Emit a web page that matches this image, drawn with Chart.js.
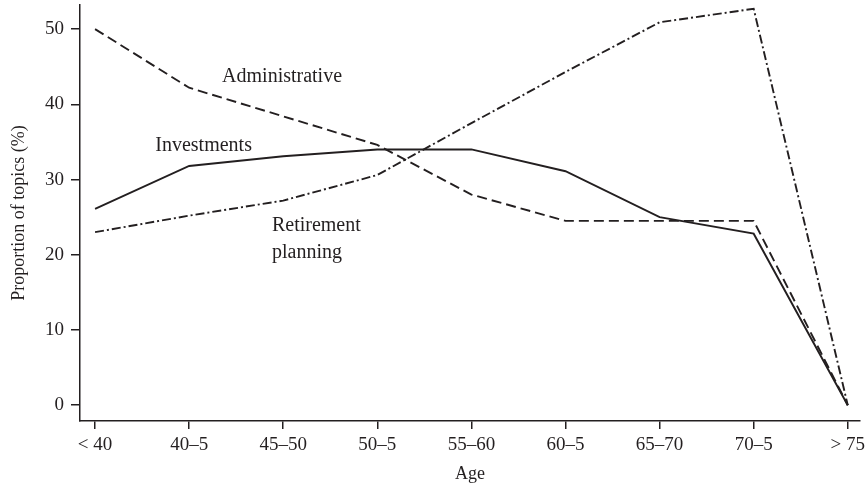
<!DOCTYPE html>
<html>
<head>
<meta charset="utf-8">
<script src="https://cdn.jsdelivr.net/npm/chart.js@4"></script>
<style>
  html, body { margin:0; padding:0; background:#fff; }
  #wrap { width:868px; height:489px; }
</style>
</head>
<body>
<div id="wrap"><canvas id="topicsChart" width="868" height="489"></canvas></div>
<script>
var ageLabels = ['< 40', '40\u20135', '45\u201350', '50\u20135', '55\u201360', '60\u20135', '65\u201370', '70\u20135', '> 75'];
var administrative = [50, 42.2, 38.4, 34.6, 28, 24.5, 24.5, 24.5, 0];
var investments = [26.1, 31.8, 33.1, 34, 34, 31.1, 25, 22.8, 0];
var retirement = [23, 25.2, 27.2, 30.6, 37.5, 44.3, 50.9, 52.7, 0];
var yTicks = [0, 10, 20, 30, 40, 50];

// text labels next to lines, in data units [x index, y value]
var lineNotes = [
	{text: 'Administrative', x: 1.35, y: 43.6},
	{text: 'Investments', x: 0.64, y: 34.5},
	{text: 'Retirement', x: 1.88, y: 23.9},
	{text: 'planning', x: 1.88, y: 20.2}
];

var ink = '#231f20';
var serif = "'Liberation Serif', 'DejaVu Serif', serif";

function toPoints(arr){
	return arr.map(function(v, i){ return {x: i, y: v}; });
}

var notesPlugin = {
	id: 'notes',
	afterDatasetsDraw: function(chart){
		var ctx = chart.ctx;
		var xs = chart.scales.x, ys = chart.scales.y;
		ctx.save();
		ctx.fillStyle = ink;
		ctx.font = '20px ' + serif;
		ctx.textAlign = 'left';
		ctx.textBaseline = 'middle';
		lineNotes.forEach(function(n){
			ctx.fillText(n.text, xs.getPixelForValue(n.x), ys.getPixelForValue(n.y));
		});
		ctx.restore();
	}
};

function makeSet(label, data, dash){
	return {
		label: label,
		data: toPoints(data),
		borderColor: ink,
		borderWidth: 1.9,
		borderDash: dash,
		pointRadius: 0,
		tension: 0,
		fill: false
	};
}

var ctx = document.getElementById('topicsChart').getContext('2d');
new Chart(ctx, {
	type: 'line',
	data: {
		datasets: [
			makeSet('Administrative', administrative, [10, 5]),
			makeSet('Investments', investments, []),
			makeSet('Retirement planning', retirement, [9, 3, 2, 3])
		]
	},
	plugins: [notesPlugin],
	options: {
		responsive: false,
		animation: false,
		layout: {padding: {top: 5, right: 8, left: 4, bottom: 0}},
		plugins: {legend: {display: false}, tooltip: {enabled: false}},
		scales: {
			x: {
				type: 'linear',
				min: -0.16,
				max: 8.13,
				afterFit: function(s){ s.height = 68; s.paddingLeft = 0; s.paddingRight = 0; },
				grid: {drawOnChartArea: false, drawTicks: true, tickLength: 8, tickColor: ink, lineWidth: 1.5},
				border: {display: true, color: ink, width: 1.5},
				ticks: {
					stepSize: 1,
					includeBounds: false,
					autoSkip: false,
					maxRotation: 0,
					color: ink,
					padding: 5,
					font: {family: serif, size: 19},
					callback: function(v){ return ageLabels[v]; }
				},
				title: {display: true, text: 'Age', color: ink, font: {family: serif, size: 18}, padding: {top: 0}}
			},
			y: {
				type: 'linear',
				min: -2.1,
				max: 53.2,
				afterFit: function(s){ s.width = 76; s.paddingTop = 0; s.paddingBottom = 0; },
				grid: {drawOnChartArea: false, drawTicks: true, tickLength: 9, tickColor: ink, lineWidth: 1.5},
				border: {display: true, color: ink, width: 1.5},
				afterBuildTicks: function(s){ s.ticks = yTicks.map(function(v){ return {value: v}; }); },
				ticks: {
					color: ink,
					padding: 7,
					font: {family: serif, size: 19}
				},
				title: {display: true, text: 'Proportion of topics (%)', color: ink, font: {family: serif, size: 18}, padding: {bottom: 4}}
			}
		}
	}
});
</script>
</body>
</html>
